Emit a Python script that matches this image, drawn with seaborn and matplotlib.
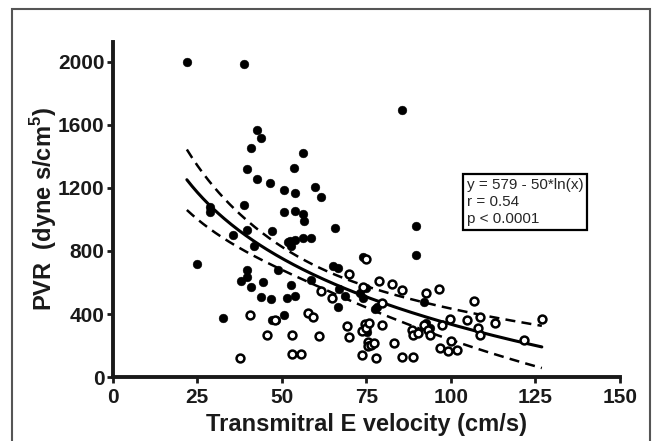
"""PVR vs transmitral E velocity scatter with log fit and 95% CI."""

import matplotlib
matplotlib.use("Agg")
import matplotlib.pyplot as plt
import numpy as np
import pandas as pd
import seaborn as sns
from matplotlib.patches import Rectangle

# filled circles
FILLED_X = [21.9, 38.75, 24.75, 28.75, 28.75, 32.6, 35.6, 37.9, 38.75, 39.6,
            39.6, 39.6, 39.6, 40.75, 41.0, 41.9, 42.75, 43.75, 42.75, 43.75,
            44.4, 46.6, 47.1, 46.9, 47.1, 48.75, 48.4, 50.6, 50.75, 50.75,
            51.6, 51.75, 52.5, 52.75, 52.75, 53.5, 53.75, 53.75, 53.9, 53.75,
            56.25, 56.4, 56.6, 56.4, 58.75, 58.5, 59.75, 61.6, 65.6, 65.0,
            66.6, 66.6, 66.9, 68.75, 73.25, 73.9, 74.1, 74.75, 75.25, 77.5,
            78.1, 85.6, 89.75, 89.75, 91.9, 92.5, 93.75]
FILLED_Y = [2000, 1984, 716, 1077, 1045, 374, 903, 609, 1094, 934,
            1322, 682, 636, 1455, 569, 831, 1570, 1518, 1255, 510,
            605, 1234, 924, 495, 359, 678, 359, 395, 1186, 1045,
            500, 856, 863, 584, 829, 1329, 1171, 1056, 514, 871,
            1035, 1419, 993, 884, 884, 619, 1203, 1140, 945, 705,
            695, 447, 556, 514, 531, 504, 762, 563, 285, 430,
            447, 1694, 957, 772, 479, 342, 311]

# open circles
OPEN_X = [37.75, 40.6, 45.6, 47.9, 52.9, 52.9, 55.6, 57.75, 59.1, 61.0,
          61.6, 64.75, 69.75, 69.4, 70.0, 73.75, 74.75, 74.1, 73.75, 74.6,
          75.0, 75.4, 75.6, 75.9, 76.25, 77.25, 77.9, 78.75, 79.6, 79.6,
          82.5, 83.1, 85.6, 85.6, 88.75, 88.5, 88.75, 90.4, 91.9, 92.75,
          93.1, 93.75, 96.6, 97.5, 96.9, 99.1, 99.6, 100.0, 101.9, 104.75,
          106.9, 107.9, 108.75, 108.75, 112.9, 121.6, 126.9]
OPEN_Y = [122, 395, 264, 359, 264, 147, 147, 405, 378, 258,
          546, 504, 653, 321, 252, 294, 751, 573, 139, 338,
          311, 222, 195, 342, 201, 216, 118, 609, 468, 332,
          590, 216, 552, 128, 128, 300, 264, 279, 332, 531,
          300, 269, 556, 332, 185, 164, 367, 227, 170, 359,
          483, 311, 384, 269, 342, 237, 367]

X_TICKS = [0, 25, 50, 75, 100, 125, 150]
Y_TICKS = [0, 400, 800, 1200, 1600, 2000]
STATS_TEXT = ["y = 579 - 50*ln(x)", "r = 0.54", "p < 0.0001"]

sns.set_style("ticks")
plt.rcParams["font.family"] = ["Liberation Sans", "DejaVu Sans"]
plt.rcParams["mathtext.fontset"] = "custom"
plt.rcParams["mathtext.rm"] = "Liberation Sans"
plt.rcParams["mathtext.bf"] = "Liberation Sans:bold"

filled = pd.DataFrame({"e_vel": FILLED_X, "pvr": FILLED_Y})
opened = pd.DataFrame({"e_vel": OPEN_X, "pvr": OPEN_Y})
both = pd.concat([filled, opened], ignore_index=True)

# log regression on all points plus 95% CI of the mean
u = np.log(both["e_vel"].to_numpy())
y = both["pvr"].to_numpy(dtype=float)
slope, icpt = np.polyfit(u, y, 1)
n = len(u)
resid = y - (icpt + slope * u)
s = np.sqrt(np.sum(resid ** 2) / (n - 2))
sxx = np.sum((u - u.mean()) ** 2)
xs = np.linspace(both["e_vel"].min(), both["e_vel"].max(), 200)
us = np.log(xs)
fit = icpt + slope * us
half = 1.98 * s * np.sqrt(1.0 / n + (us - u.mean()) ** 2 / sxx)
curve = pd.DataFrame({"x": xs, "fit": fit, "lo": fit - half, "hi": fit + half})

fig = plt.figure(figsize=(6.56, 4.41), dpi=100)
ax = fig.add_axes([0.172, 0.145, 0.773, 0.760])

sns.lineplot(data=curve, x="x", y="fit", ax=ax, color="black", lw=2.2)
for col in ["lo", "hi"]:
    sns.lineplot(data=curve, x="x", y=col, ax=ax, color="black", lw=1.8,
                 linestyle=(0, (4, 2.5)))

sns.scatterplot(data=filled, x="e_vel", y="pvr", ax=ax, color="black",
                s=40, edgecolor="black", linewidth=0.3, zorder=3)
sns.scatterplot(data=opened, x="e_vel", y="pvr", ax=ax, facecolor="white",
                edgecolor="black", s=32, linewidth=1.8, zorder=3)

ax.set_xlim(0, 150)
ax.set_ylim(0, 2127)
ax.set_xticks(X_TICKS)
ax.set_yticks(Y_TICKS)
sns.despine(ax=ax)
for side in ["left", "bottom"]:
    ax.spines[side].set_linewidth(2.8)
    ax.spines[side].set_color("#1a1a1a")
ax.tick_params(length=4, width=2, color="#1a1a1a", labelsize=15)
ax.tick_params(axis="x", pad=4)
ax.tick_params(axis="y", pad=2)
for lbl in ax.get_xticklabels() + ax.get_yticklabels():
    lbl.set_fontweight("bold")
    lbl.set_color("#1a1a1a")

ax.set_xlabel("Transmitral E velocity (cm/s)", fontsize=17,
              fontweight="bold", color="#1a1a1a", labelpad=4)
ax.set_ylabel(r"PVR  (dyne s/cm$^{\mathbf{5}}$)", fontsize=17,
              fontweight="bold", color="#1a1a1a", labelpad=-1)

ax.text(0.698, 0.595, "\n".join(STATS_TEXT), transform=ax.transAxes,
        fontsize=11, va="top", ha="left", linespacing=1.3,
        bbox=dict(boxstyle="square,pad=0.25", facecolor="white",
                  edgecolor="black", linewidth=1.6))

# outer frame of the figure panel
fig.patches.append(Rectangle((0.018, -0.05), 0.973, 1.029,
                             transform=fig.transFigure, fill=False,
                             edgecolor="#555555", linewidth=1.5))

fig.savefig("out.png", dpi=100)
